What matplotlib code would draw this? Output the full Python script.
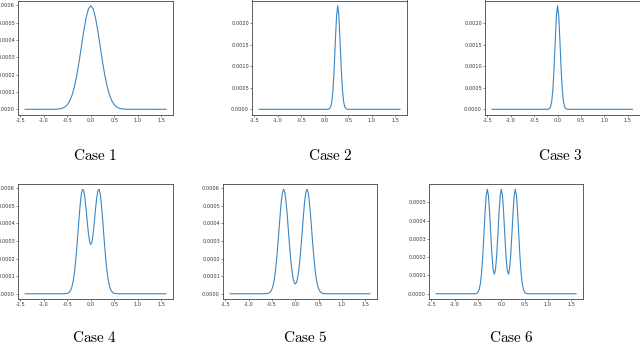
import matplotlib
matplotlib.use("Agg")
import matplotlib.pyplot as plt

# ---------------- data ----------------
case_labels = ["Case 1", "Case 2", "Case 3", "Case 4", "Case 5", "Case 6"]

x_ticks = [-1.5, -1.0, -0.5, 0.0, 0.5, 1.0, 1.5]
y_ticks_a = [0.0, 0.0001, 0.0002, 0.0003, 0.0004, 0.0005, 0.0006]
y_ticks_b = [0.0, 0.0005, 0.0010, 0.0015, 0.0020]
y_ticks_c = [0.0, 0.0001, 0.0002, 0.0003, 0.0004, 0.0005]

# Case 1: single broad peak at 0
x1 = [-1.4, -0.8, -0.7, -0.65, -0.6, -0.55, -0.5, -0.45, -0.4, -0.35, -0.3, -0.25,
      -0.2, -0.15, -0.1, -0.05, 0.0, 0.05, 0.1, 0.15, 0.2, 0.25, 0.3, 0.35, 0.4,
      0.45, 0.5, 0.55, 0.6, 0.65, 0.7, 0.8, 1.6]
y1 = [0.0, 0.0000002, 0.0000013, 0.000003, 0.0000066, 0.0000136, 0.0000262,
      0.0000475, 0.0000808, 0.000129, 0.000194, 0.000273, 0.000362, 0.000451,
      0.000527, 0.000579, 0.000597, 0.000579, 0.000527, 0.000451, 0.000362,
      0.000273, 0.000194, 0.000129, 0.0000808, 0.0000475, 0.0000262, 0.0000136,
      0.0000066, 0.000003, 0.0000013, 0.0000002, 0.0]

# Case 2: narrow peak right of centre
x2 = [-1.4, 0.025, 0.075, 0.1, 0.125, 0.15, 0.175, 0.2, 0.225, 0.25, 0.275, 0.3,
      0.325, 0.35, 0.375, 0.4, 0.425, 0.45, 0.475, 0.525, 1.6]
y2 = [0.0, 0.0, 0.0000032, 0.0000152, 0.0000582, 0.000181, 0.00046, 0.000947,
      0.001588, 0.002164, 0.0024, 0.002164, 0.001588, 0.000947, 0.00046,
      0.000181, 0.0000582, 0.0000152, 0.0000032, 0.0, 0.0]

# Case 3: narrow peak at 0
x3 = [-1.4, -0.25, -0.2, -0.175, -0.15, -0.125, -0.1, -0.075, -0.05, -0.025, 0.0,
      0.025, 0.05, 0.075, 0.1, 0.125, 0.15, 0.175, 0.2, 0.25, 1.6]
y3 = [0.0, 0.0, 0.0000032, 0.0000152, 0.0000582, 0.000181, 0.00046, 0.000947,
      0.001588, 0.002164, 0.0024, 0.002164, 0.001588, 0.000947, 0.00046,
      0.000181, 0.0000582, 0.0000152, 0.0000032, 0.0, 0.0]

# Case 4: two close peaks
x4 = [-1.4, -0.6, -0.55, -0.5, -0.475, -0.45, -0.425, -0.4, -0.375, -0.35, -0.325,
      -0.3, -0.275, -0.25, -0.225, -0.2, -0.175, -0.15, -0.125, -0.1, -0.075,
      -0.05, -0.025, 0.0, 0.025, 0.05, 0.075, 0.1, 0.125, 0.15, 0.175, 0.2,
      0.225, 0.25, 0.275, 0.3, 0.325, 0.35, 0.375, 0.4, 0.425, 0.45, 0.475, 0.5,
      0.55, 0.6, 1.6]
y4 = [0.0, 0.0, 0.0000004, 0.0000026, 0.0000057, 0.0000117, 0.0000229, 0.000042,
      0.0000724, 0.000117, 0.000178, 0.000254, 0.000341, 0.00043, 0.000509,
      0.000567, 0.000593, 0.000584, 0.000543, 0.000479, 0.000406, 0.000341,
      0.000295, 0.000279, 0.000295, 0.000341, 0.000406, 0.000479, 0.000543,
      0.000584, 0.000593, 0.000567, 0.000509, 0.00043, 0.000341, 0.000254,
      0.000178, 0.000117, 0.0000724, 0.000042, 0.0000229, 0.0000117, 0.0000057,
      0.0000026, 0.0000004, 0.0, 0.0]

# Case 5: two separated peaks
x5 = [-1.4, -0.7, -0.65, -0.6, -0.575, -0.55, -0.525, -0.5, -0.475, -0.45, -0.425,
      -0.4, -0.375, -0.35, -0.325, -0.3, -0.275, -0.25, -0.225, -0.2, -0.175,
      -0.15, -0.125, -0.1, -0.075, -0.05, -0.025, 0.0, 0.025, 0.05, 0.075, 0.1,
      0.125, 0.15, 0.175, 0.2, 0.225, 0.25, 0.275, 0.3, 0.325, 0.35, 0.375, 0.4,
      0.425, 0.45, 0.475, 0.5, 0.525, 0.55, 0.575, 0.6, 0.65, 0.7, 1.6]
y5 = [0.0, 0.0, 0.0000002, 0.0000015, 0.0000033, 0.0000072, 0.0000146, 0.0000277,
      0.0000496, 0.0000834, 0.000132, 0.000197, 0.000276, 0.000363, 0.00045,
      0.000525, 0.000575, 0.000593, 0.000575, 0.000525, 0.00045, 0.000363,
      0.000276, 0.000198, 0.0001355, 0.0000906, 0.0000642, 0.0000554, 0.0000642,
      0.0000906, 0.0001355, 0.000198, 0.000276, 0.000363, 0.00045, 0.000525,
      0.000575, 0.000593, 0.000575, 0.000525, 0.00045, 0.000363, 0.000276,
      0.000197, 0.000132, 0.0000834, 0.0000496, 0.0000277, 0.0000146, 0.0000072,
      0.0000033, 0.0000015, 0.0000002, 0.0, 0.0]

# Case 6: three peaks
x6 = [-1.4, -0.6, -0.55, -0.525, -0.5, -0.475, -0.45, -0.425, -0.4, -0.375, -0.35,
      -0.325, -0.3, -0.275, -0.25, -0.225, -0.2, -0.175, -0.15, -0.125, -0.1,
      -0.075, -0.05, -0.025, 0.0, 0.025, 0.05, 0.075, 0.1, 0.125, 0.15, 0.175,
      0.2, 0.225, 0.25, 0.275, 0.3, 0.325, 0.35, 0.375, 0.4, 0.425, 0.45, 0.475,
      0.5, 0.525, 0.55, 0.6, 1.6]
y6 = [0.0, 0.0, 0.0000008, 0.0000028, 0.0000085, 0.0000228, 0.0000536, 0.00011,
      0.0002, 0.000316, 0.00044, 0.000536, 0.000572, 0.000536, 0.00044, 0.000319,
      0.000208, 0.000133, 0.000107, 0.000133, 0.000208, 0.000319, 0.00044,
      0.000536, 0.000572, 0.000536, 0.00044, 0.000319, 0.000208, 0.000133,
      0.000107, 0.000133, 0.000208, 0.000319, 0.00044, 0.000536, 0.000572,
      0.000536, 0.00044, 0.000316, 0.0002, 0.00011, 0.0000536, 0.0000228,
      0.0000085, 0.0000028, 0.0000008, 0.0, 0.0]

series = [(x1, y1, y_ticks_a), (x2, y2, y_ticks_b), (x3, y3, y_ticks_b),
          (x4, y4, y_ticks_a), (x5, y5, y_ticks_a), (x6, y6, y_ticks_c)]

# ---------------- layout (pixels of a 640x345 canvas) ----------------
W, H = 640.0, 345.0
axes_px = [  # left, top, right, bottom
    (18, 0.5, 173, 114.5),
    (252, 0.5, 407, 114.5),
    (485, 0.5, 639.5, 114.5),
    (18, 184, 173, 299),
    (223, 184, 377, 299),
    (429, 184, 583, 299),
]
caption_px = [(95, 155), (330, 155), (560, 155), (95, 338), (305, 338), (511, 338)]

fig = plt.figure(figsize=(6.4, 3.45), dpi=100)
fig.patch.set_facecolor("white")

for (x, y, yt), (l, t, r, b), (cx, cy), lab in zip(series, axes_px, caption_px, case_labels):
    ax = fig.add_axes([l / W, 1 - b / H, (r - l) / W, (b - t) / H])
    ax.plot(x, y, color="#3a86c4", lw=0.8)
    ax.set_xticks(x_ticks)
    ax.set_yticks(yt)
    ax.yaxis.set_major_formatter(matplotlib.ticker.FormatStrFormatter("%.4f"))
    ax.xaxis.set_major_formatter(matplotlib.ticker.FormatStrFormatter("%.1f"))
    ax.tick_params(labelsize=3.6, length=1.2, width=0.4, pad=1, colors="#333333")
    for s in ax.spines.values():
        s.set_linewidth(0.6)
        s.set_color("#444444")
    fig.text(cx / W, 1 - cy / H, r"$\mathrm{" + lab.replace(" ", r"\ ") + "}$",
             ha="center", va="center", fontsize=11, math_fontfamily="cm")

fig.savefig("out.png", dpi=100, facecolor="white")
